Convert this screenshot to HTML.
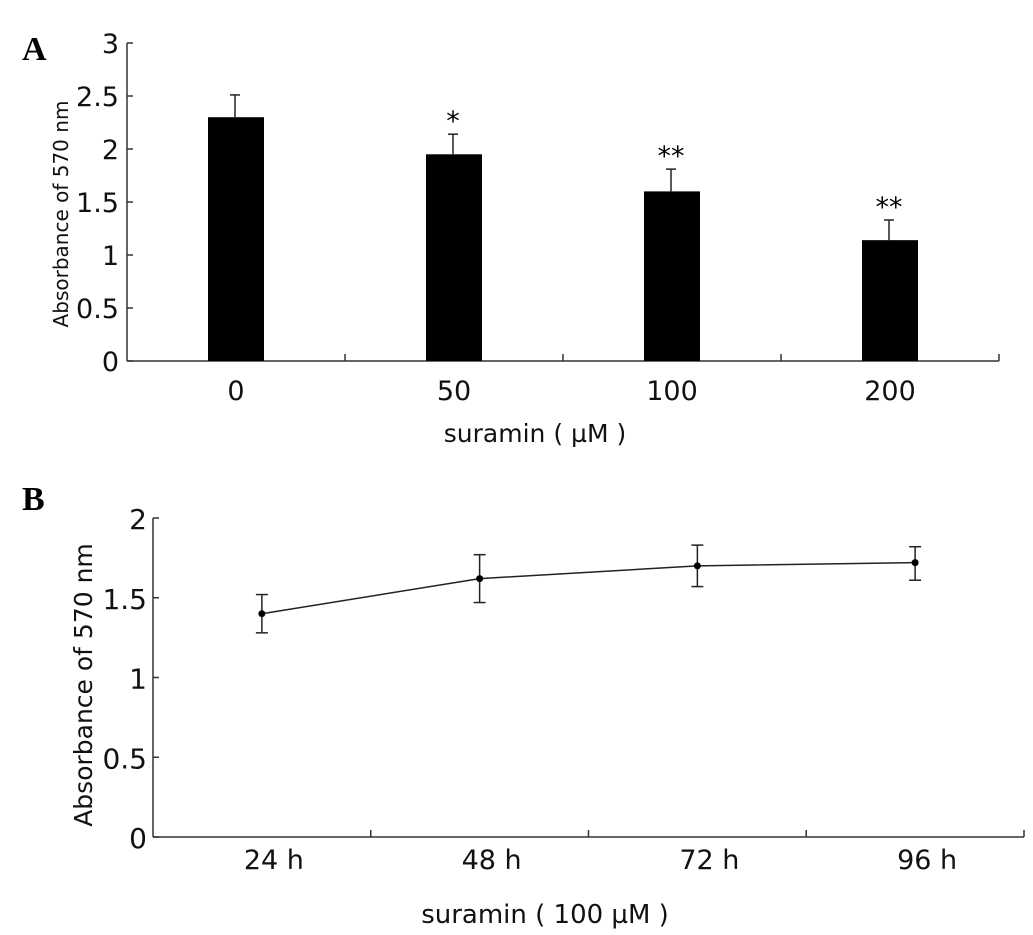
<!DOCTYPE html>
<html><head><meta charset="utf-8"><style>
body{margin:0;background:#fff}
svg{display:block;font-family:"DejaVu Sans","Liberation Sans",sans-serif}
</style></head><body>
<svg width="1033" height="935" viewBox="0 0 1033 935">
<g id="A"></g>
<g id="B"></g>
</svg>
<script>
const catsA=["0","50","100","200"];
const valsA=[2.30,1.95,1.60,1.14];
const errA=[0.21,0.19,0.21,0.19];
const starsA=["","*","**","**"];
const ticksA=[0,0.5,1,1.5,2,2.5,3];
const tickLabelsA=["0","0.5","1","1.5","2","2.5","3"];
const catsB=["24 h","48 h","72 h","96 h"];
const valsB=[1.40,1.62,1.70,1.72];
const errUpB=[0.12,0.15,0.13,0.10];
const errDnB=[0.12,0.15,0.13,0.11];
const ticksB=[0,0.5,1,1.5,2];
const tickLabelsB=["0","0.5","1","1.5","2"];
const NS="http://www.w3.org/2000/svg";
function mk(p,t,a,txt){const e=document.createElementNS(NS,t);for(const k in a)e.setAttribute(k,a[k]);if(txt!==undefined)e.textContent=txt;p.appendChild(e);return e;}
// Panel A
const A=document.getElementById('A');
const ax0=127,ax1=999,ay0=361,ayTop=43,yMaxA=3;
const yA=v=>ay0-(v/yMaxA)*(ay0-ayTop);
const stepA=(ax1-ax0)/catsA.length;
const xA=i=>ax0+stepA*(i+0.5);
let t=mk(A,'text',{x:22,y:60,'font-size':34,'font-weight':'bold','font-family':'Liberation Serif, serif'},'A');

let l=mk(A,'line',{x1:ax0,y1:ayTop,x2:ax0,y2:ay0,stroke:'#333','stroke-width':1.5});

l=mk(A,'line',{x1:ax0,y1:ay0,x2:ax1,y2:ay0,stroke:'#333','stroke-width':1.5});

ticksA.forEach((v,i)=>{mk(A,'line',{x1:ax0,y1:yA(v),x2:ax0+6,y2:yA(v),stroke:'#333','stroke-width':1.5});
 const tt=mk(A,'text',{x:ax0-8,y:yA(v)+10,'font-size':27,'text-anchor':'end',fill:'#111'},tickLabelsA[i]);
 });
for(let i=1;i<=catsA.length;i++){const x=ax0+stepA*i;mk(A,'line',{x1:x,y1:ay0,x2:x,y2:ay0-7,stroke:'#333','stroke-width':1.5});}
catsA.forEach((c,i)=>{const x=xA(i),w=56;
 const r=mk(A,'rect',{x:x-w/2,y:yA(valsA[i]),width:w,height:ay0-yA(valsA[i]),fill:'#000'});
 
 const ex=x-1;mk(A,'line',{x1:ex,y1:yA(valsA[i]),x2:ex,y2:yA(valsA[i]+errA[i]),stroke:'#222','stroke-width':1.5});
 mk(A,'line',{x1:ex-5,y1:yA(valsA[i]+errA[i]),x2:ex+5,y2:yA(valsA[i]+errA[i]),stroke:'#222','stroke-width':1.5});
 if(starsA[i]){const s=mk(A,'text',{x:ex,y:yA(valsA[i]+errA[i])-4,'font-size':27,'text-anchor':'middle'},starsA[i]);
  }
 const tl=mk(A,'text',{x:x,y:400,'font-size':27,'text-anchor':'middle',fill:'#111'},c);
 });
t=mk(A,'text',{x:535,y:442,'font-size':25,'text-anchor':'middle',fill:'#111'},'suramin ( µM )');

t=mk(A,'text',{x:0,y:0,'font-size':20,'text-anchor':'middle',fill:'#111',transform:'translate(68,214) rotate(-90)'},'Absorbance of 570 nm');

// Panel B
const B=document.getElementById('B');
const bx0=153,bx1=1024,by0=837,byTop=518,yMaxB=2;
const yB=v=>by0-(v/yMaxB)*(by0-byTop);
const stepB=(bx1-bx0)/catsB.length;
const xB=i=>bx0+stepB*(i+0.5);
t=mk(B,'text',{x:22,y:510,'font-size':34,'font-weight':'bold','font-family':'Liberation Serif, serif'},'B');

l=mk(B,'line',{x1:bx0,y1:byTop,x2:bx0,y2:by0,stroke:'#333','stroke-width':1.5});

l=mk(B,'line',{x1:bx0,y1:by0,x2:bx1,y2:by0,stroke:'#333','stroke-width':1.5});

ticksB.forEach((v,i)=>{mk(B,'line',{x1:bx0,y1:yB(v),x2:bx0+6,y2:yB(v),stroke:'#333','stroke-width':1.5});
 const tt=mk(B,'text',{x:bx0-6,y:yB(v)+11,'font-size':28,'text-anchor':'end',fill:'#111'},tickLabelsB[i]);
 });
for(let i=1;i<=catsB.length;i++){const x=bx0+stepB*i;mk(B,'line',{x1:x,y1:by0,x2:x,y2:by0-7,stroke:'#333','stroke-width':1.5});}
const pl=mk(B,'polyline',{points:valsB.map((v,i)=>xB(i)+','+yB(v)).join(' '),fill:'none',stroke:'#222','stroke-width':1.5});

catsB.forEach((c,i)=>{const x=xB(i),v=valsB[i];
 mk(B,'line',{x1:x,y1:yB(v+errUpB[i]),x2:x,y2:yB(v-errDnB[i]),stroke:'#222','stroke-width':1.5});
 mk(B,'line',{x1:x-6,y1:yB(v+errUpB[i]),x2:x+6,y2:yB(v+errUpB[i]),stroke:'#222','stroke-width':1.5});
 mk(B,'line',{x1:x-6,y1:yB(v-errDnB[i]),x2:x+6,y2:yB(v-errDnB[i]),stroke:'#222','stroke-width':1.5});
 const p=mk(B,'circle',{cx:x,cy:yB(v),r:3.5,fill:'#000'});
 
 const tl=mk(B,'text',{x:x+12,y:869,'font-size':27,'text-anchor':'middle',fill:'#111'},c);
 });
t=mk(B,'text',{x:545,y:923,'font-size':26,'text-anchor':'middle',fill:'#111'},'suramin ( 100 µM )');

t=mk(B,'text',{x:0,y:0,'font-size':25,'text-anchor':'middle',fill:'#111',transform:'translate(92,685) rotate(-90)'},'Absorbance of 570 nm');

</script>
</body></html>
